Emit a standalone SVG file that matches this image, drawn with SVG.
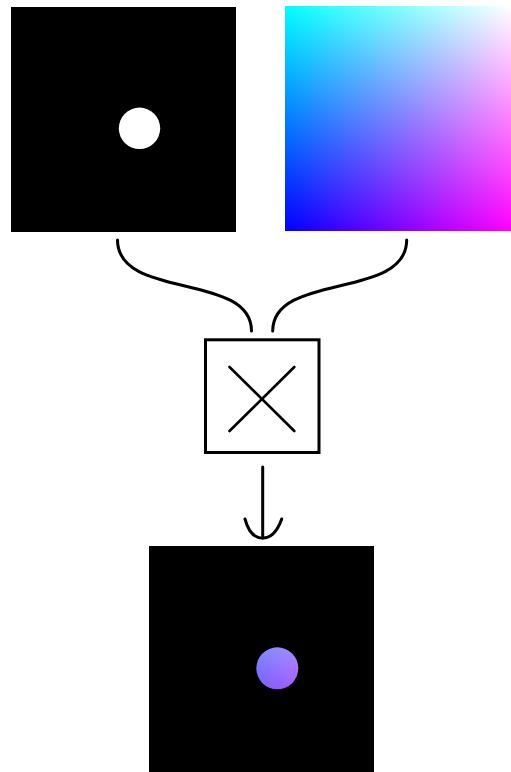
<svg xmlns="http://www.w3.org/2000/svg" width="511" height="772" viewBox="0 0 511 772">
  <style>
    .wire { fill: none; stroke: #000; stroke-width: 3; stroke-linecap: round; stroke-linejoin: round; }
    .frame { fill: #fff; stroke: #000; stroke-width: 3; }
    .mark { fill: none; stroke: #000; stroke-width: 2.6; stroke-linecap: round; }
    .layered { isolation: isolate; }
    .screen { mix-blend-mode: screen; }
  </style>
  <defs>
    <!-- red channel runs left to right over a solid blue base -->
    <linearGradient id="redAxis" x1="0" y1="0" x2="1" y2="0">
      <stop offset="0" stop-color="#0000ff"/>
      <stop offset="1" stop-color="#ff00ff"/>
    </linearGradient>
    <!-- green channel fades from top to bottom -->
    <linearGradient id="greenAxis" x1="0" y1="0" x2="0" y2="1">
      <stop offset="0" stop-color="#00ff00"/>
      <stop offset="1" stop-color="#000000"/>
    </linearGradient>
    <clipPath id="dotClip">
      <circle cx="277.3" cy="668.3" r="21"/>
    </clipPath>
  </defs>

  <rect width="511" height="772" fill="#fff"/>

  <!-- mask input: white dot on black -->
  <g id="mask">
    <rect x="11" y="7" width="225" height="225" fill="#000"/>
    <circle cx="139.5" cy="128.3" r="20.7" fill="#fff"/>
  </g>

  <!-- colour field input -->
  <g id="colorField" class="layered">
    <rect x="285" y="6" width="226" height="225" fill="url(#redAxis)"/>
    <rect class="screen" x="285" y="6" width="226" height="225" fill="url(#greenAxis)"/>
  </g>

  <!-- multiply operator -->
  <g id="multiply">
    <rect class="frame" x="205.5" y="339.8" width="113.5" height="112.7"/>
    <line class="mark" x1="229.5" y1="367" x2="294.3" y2="431"/>
    <line class="mark" x1="294.3" y1="367" x2="229.5" y2="431"/>
  </g>

  <!-- product: colour field seen through the dot -->
  <g id="product">
    <rect x="149" y="546" width="225" height="226" fill="#000"/>
    <g class="layered" clip-path="url(#dotClip)">
      <rect x="149" y="546" width="225" height="225" fill="url(#redAxis)"/>
      <rect class="screen" x="149" y="546" width="225" height="225" fill="url(#greenAxis)"/>
    </g>
  </g>

  <g id="connectors">
    <path class="wire" d="M117.5,240 C117.5,300 251.5,272 251.5,331"/>
    <path class="wire" d="M406.7,240 C406.7,300 272.7,272 272.7,331"/>
    <path class="wire" d="M262.7,467 L262.7,538"/>
    <path class="wire" d="M245,519 Q250,538 262.7,538 Q275,538 281.7,519"/>
  </g>
</svg>
